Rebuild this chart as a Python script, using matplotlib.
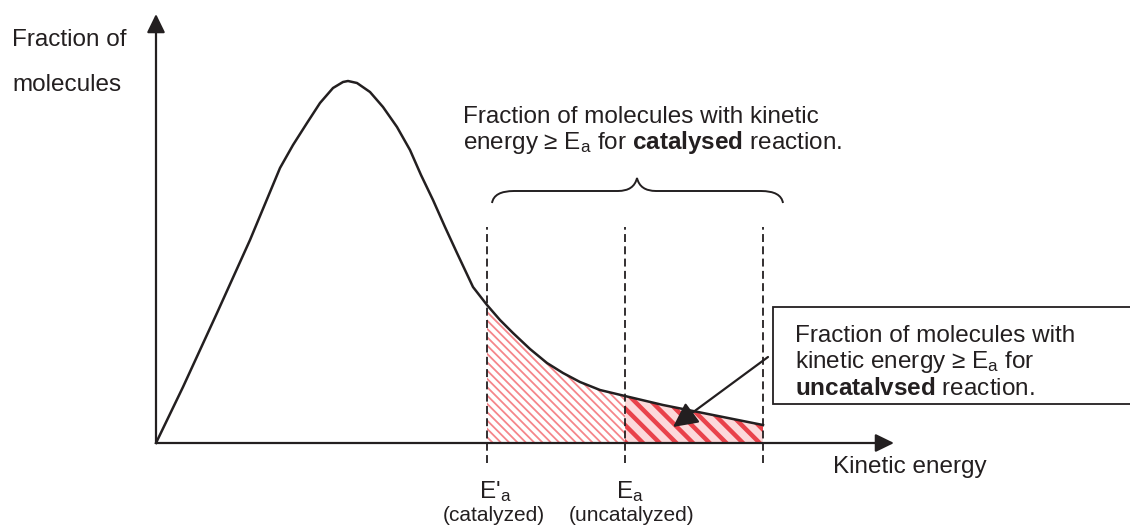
import matplotlib
matplotlib.use("Agg")
import matplotlib.pyplot as plt
import numpy as np
from matplotlib.path import Path
from matplotlib.patches import PathPatch, Rectangle

# Maxwell-Boltzmann style curve (arbitrary units)
energy = np.array([0, 27, 61, 94, 124, 137, 151, 164, 177, 187, 192, 201, 214, 227,
                   241, 254, 265, 277, 289, 301, 317, 331, 344, 357, 374, 391, 407,
                   424, 444, 469, 507, 557, 607])
fraction = np.array([0, 56, 130, 203, 275, 298, 320, 340, 355, 361, 362, 360, 351, 336,
                     316, 293, 268, 243, 216, 190, 156, 138, 123, 110, 94, 80, 70,
                     61, 53, 47, 38, 28, 18])

ea_catalysed = 331
ea_uncatalysed = 469
ea_end = 607

TXT = "#231f20"
plt.rcParams['font.family'] = ['Liberation Sans', 'DejaVu Sans']
plt.rcParams['mathtext.fontset'] = 'custom'
plt.rcParams['mathtext.rm'] = 'Liberation Sans'
plt.rcParams['mathtext.bf'] = 'Liberation Sans:bold'
plt.rcParams['mathtext.it'] = 'Liberation Sans:italic'

fig = plt.figure(figsize=(11.3, 5.27), dpi=100)
ax = fig.add_axes([0, 0, 1, 1])
ax.set_xlim(-156, 974)
ax.set_ylim(-84, 443)
ax.axis('off')

# shaded areas under the tail
m1 = (energy >= ea_catalysed) & (energy <= ea_uncatalysed)
m2 = energy >= ea_uncatalysed
with plt.rc_context({'hatch.linewidth': 1.3}):
    ax.fill_between(energy[m1], 0, fraction[m1], facecolor='none',
                    edgecolor='#f5868b', hatch='\\\\\\\\', linewidth=0, zorder=1)
ax.fill_between(energy[m2], 0, fraction[m2], facecolor='#fcd9da',
                edgecolor='none', linewidth=0, zorder=1)
with plt.rc_context({'hatch.linewidth': 3.2}):
    ax.fill_between(energy[m2], 0, fraction[m2], facecolor='none',
                    edgecolor='#e9424a', hatch='\\\\', linewidth=0, zorder=1)

ax.plot(energy, fraction, color=TXT, lw=1.8, zorder=3)

# axes with arrow heads
arr = dict(arrowstyle='-|>,head_length=0.45,head_width=0.22', lw=1.6, color=TXT,
           mutation_scale=25, shrinkA=0, shrinkB=0)
ax.annotate('', xy=(0, 429), xytext=(0, 0), arrowprops=arr, zorder=4)
ax.annotate('', xy=(738, 0), xytext=(0, 0), arrowprops=arr, zorder=4)

# dashed lines at activation energies
ax.vlines([ea_catalysed, ea_uncatalysed, ea_end], -20, 216, colors=TXT,
          linestyles=(0, (4.4, 2.4)), lw=1.3, zorder=2)

# curly brace
verts = [(336, 240), (338, 252), (358, 252), (462, 252), (478, 252), (481, 265),
         (484, 252), (500, 252), (605, 252), (625, 252), (627, 240)]
codes = [Path.MOVETO, Path.CURVE3, Path.CURVE3, Path.LINETO, Path.CURVE3, Path.CURVE3,
         Path.CURVE3, Path.CURVE3, Path.LINETO, Path.CURVE3, Path.CURVE3]
ax.add_patch(PathPatch(Path(verts, codes), facecolor='none', edgecolor=TXT, lw=1.4))

fs = 17.5
ax.text(-144, 397, "Fraction of", fontsize=fs, color=TXT)
ax.text(-144, 352, "molecules", fontsize=fs, color=TXT)
ax.text(677, -30, "Kinetic energy", fontsize=fs, color=TXT)

ax.text(307, 320, "Fraction of molecules with kinetic", fontsize=fs, color=TXT)
ax.text(307, 294, r"energy ≥ E$_\mathregular{a}$ for $\mathbf{catalysed}$ reaction.",
        fontsize=fs, color=TXT)

# box for uncatalysed (runs off the right edge)
ax.add_patch(Rectangle((617, 39), 700, 97, facecolor='white', edgecolor=TXT,
                       lw=1.3, zorder=5, clip_on=False))
ax.text(639, 101, "Fraction of molecules with", fontsize=fs, color=TXT, zorder=6)
ax.text(639, 75, r"kinetic energy ≥ E$_\mathregular{a}$ for", fontsize=fs, color=TXT,
        zorder=6)
ax.text(639, 48, r"$\mathbf{uncatalvsed}$ reaction.", fontsize=fs, color=TXT, zorder=6)

ax.annotate('', xy=(517, 16), xytext=(612, 86),
            arrowprops=dict(arrowstyle='-|>,head_length=0.5,head_width=0.25',
                            lw=1.6, color=TXT, mutation_scale=30,
                            shrinkA=0, shrinkB=0), zorder=4)

# x labels under the dashed lines
ax.text(ea_catalysed + 8, -55, r"E'$_\mathregular{a}$", fontsize=fs, color=TXT,
        ha='center')
ax.text(ea_catalysed + 7, -78, "(catalyzed)", fontsize=15, color=TXT, ha='center')
ax.text(ea_uncatalysed + 5, -55, r"E$_\mathregular{a}$", fontsize=fs, color=TXT,
        ha='center')
ax.text(ea_uncatalysed + 7, -78, "(uncatalyzed)", fontsize=15, color=TXT, ha='center')

fig.savefig("out.png", dpi=100)
